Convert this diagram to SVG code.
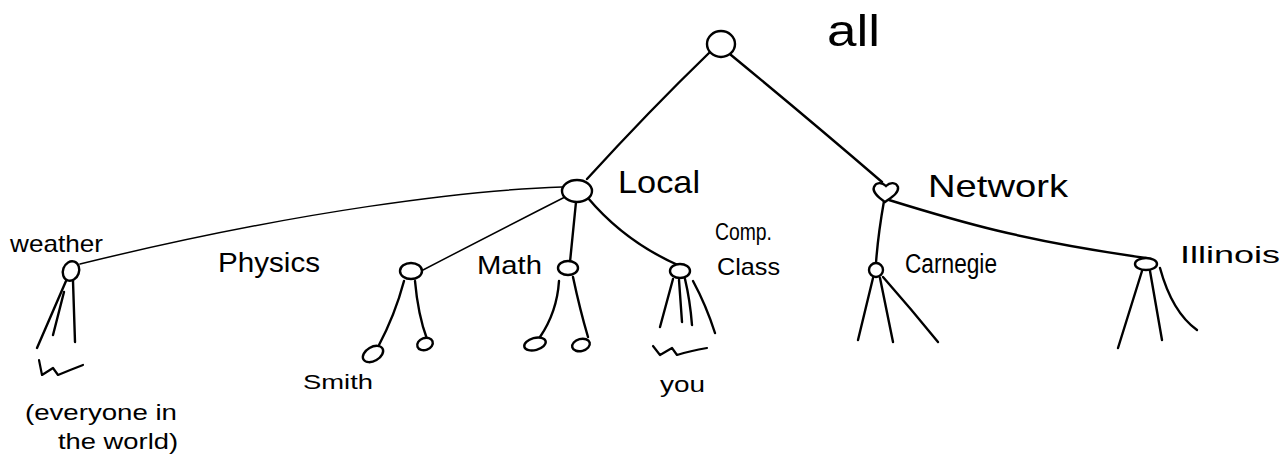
<svg xmlns="http://www.w3.org/2000/svg" width="1284" height="464" viewBox="0 0 1284 464">
  <style>
    .edge { fill: none; stroke: #000; stroke-width: 2.4; stroke-linecap: round; stroke-linejoin: round; }
    .thin { stroke-width: 1.5; }
    .node { fill: #fff; stroke: #000; stroke-width: 2.4; }
    .scrib { fill: none; stroke: #000; stroke-width: 2.2; stroke-linecap: round; stroke-linejoin: round; }
    text { font-family: "Liberation Sans", Arial, sans-serif; fill: #000; }
  </style>
  <rect width="1284" height="464" fill="#fff"/>

  <!-- tree edges -->
  <g id="connectors">
    <path class="edge" d="M709,53 Q650,110 587,179"/>
    <path class="edge" d="M731,55 Q810,120 882,182"/>
    <path class="edge thin" d="M562,187 C470,190 300,210 80,264"/>
    <path class="edge thin" d="M565,197 Q500,230 423,270"/>
    <path class="edge" d="M576,202 L570,262"/>
    <path class="edge" d="M588,198 Q625,242 680,266"/>
    <path class="edge" d="M884,201 Q878,235 876,263"/>
    <path class="edge" d="M889,200 C960,222 1020,240 1146,258"/>
    <!-- weather fan -->
    <path class="edge" d="M66,281 L37,348"/>
    <path class="edge" d="M64,292 L53,335"/>
    <path class="edge" d="M73,281 L75,342"/>
    <!-- physics children -->
    <path class="edge" d="M404,281 Q395,315 378,347"/>
    <path class="edge" d="M415,281 Q418,315 427,339"/>
    <!-- math children -->
    <path class="edge" d="M559,281 Q557,312 540,337"/>
    <path class="edge" d="M573,277 Q580,310 588,337"/>
    <!-- comp. class fan -->
    <path class="edge" d="M673,279 L660,327"/>
    <path class="edge" d="M679,280 L682,322"/>
    <path class="edge" d="M685,279 Q690,300 692,325"/>
    <path class="edge" d="M693,281 Q706,305 715,333"/>
    <!-- carnegie fan -->
    <path class="edge" d="M873,278 L858,340"/>
    <path class="edge" d="M880,278 L893,342"/>
    <path class="edge" d="M883,277 Q912,310 938,342"/>
    <!-- illinois fan -->
    <path class="edge" d="M1142,271 L1118,348"/>
    <path class="edge" d="M1150,271 L1162,340"/>
    <path class="edge" d="M1160,268 Q1172,312 1197,330"/>
  </g>

  <g id="node-all">
    <ellipse class="node" cx="721" cy="44" rx="14" ry="13"/>
    <text x="827" y="46" font-size="44" textLength="53" lengthAdjust="spacingAndGlyphs">all</text>
  </g>

  <g id="node-local">
    <ellipse class="node" cx="577" cy="191" rx="15" ry="11"/>
    <text x="618" y="193" font-size="32" textLength="82" lengthAdjust="spacingAndGlyphs">Local</text>
  </g>

  <g id="node-network">
    <path class="node" d="M885,202 C878,197 872,192 874,187 C876,182 882,182 886,186 C890,182 896,182 898,187 C899,193 892,197 885,202 Z"/>
    <text x="928" y="197" font-size="32" textLength="140" lengthAdjust="spacingAndGlyphs">Network</text>
  </g>

  <g id="node-weather">
    <ellipse class="node" cx="71" cy="271" rx="8" ry="10" transform="rotate(20 71 271)"/>
    <text x="10" y="252" font-size="24" textLength="93" lengthAdjust="spacingAndGlyphs">weather</text>
    <path class="scrib" d="M39,360 L42,375 L53,368 L58,375 Q70,370 83,365"/>
    <text x="25" y="420" font-size="22" textLength="152" lengthAdjust="spacingAndGlyphs">(everyone in</text>
    <text x="58" y="449" font-size="22" textLength="120" lengthAdjust="spacingAndGlyphs">the world)</text>
  </g>

  <g id="node-physics">
    <ellipse class="node" cx="411" cy="271" rx="11" ry="8"/>
    <text x="218" y="272" font-size="27" textLength="102" lengthAdjust="spacingAndGlyphs">Physics</text>
  </g>

  <g id="node-smith">
    <ellipse class="node" cx="373" cy="354" rx="11" ry="7" transform="rotate(-30 373 354)"/>
    <text x="303" y="389" font-size="21" textLength="70" lengthAdjust="spacingAndGlyphs">Smith</text>
  </g>

  <g id="node-physics-leaf">
    <ellipse class="node" cx="425" cy="344" rx="8" ry="6" transform="rotate(-20 425 344)"/>
  </g>

  <g id="node-math">
    <ellipse class="node" cx="568" cy="268" rx="10" ry="7"/>
    <text x="477" y="274" font-size="26" textLength="65" lengthAdjust="spacingAndGlyphs">Math</text>
  </g>

  <g id="node-math-leaf-1">
    <ellipse class="node" cx="535" cy="344" rx="11" ry="6" transform="rotate(-15 535 344)"/>
  </g>

  <g id="node-math-leaf-2">
    <ellipse class="node" cx="581" cy="345" rx="9" ry="6" transform="rotate(-15 581 345)"/>
  </g>

  <g id="node-comp-class">
    <ellipse class="node" cx="680" cy="271" rx="10" ry="7"/>
    <text x="715" y="240" font-size="24" textLength="57" lengthAdjust="spacingAndGlyphs">Comp.</text>
    <text x="717" y="275" font-size="24" textLength="63" lengthAdjust="spacingAndGlyphs">Class</text>
    <path class="scrib" d="M653,346 L660,355 L672,348 L677,355 Q690,351 707,348"/>
    <text x="660" y="392" font-size="22" textLength="45" lengthAdjust="spacingAndGlyphs">you</text>
  </g>

  <g id="node-carnegie">
    <ellipse class="node" cx="876" cy="270" rx="7" ry="7"/>
    <text x="905" y="273" font-size="27" textLength="92" lengthAdjust="spacingAndGlyphs">Carnegie</text>
  </g>

  <g id="node-illinois">
    <ellipse class="node" cx="1146" cy="264" rx="11" ry="6"/>
    <text x="1180" y="263" font-size="24" textLength="100" lengthAdjust="spacingAndGlyphs">Illinois</text>
  </g>
</svg>
